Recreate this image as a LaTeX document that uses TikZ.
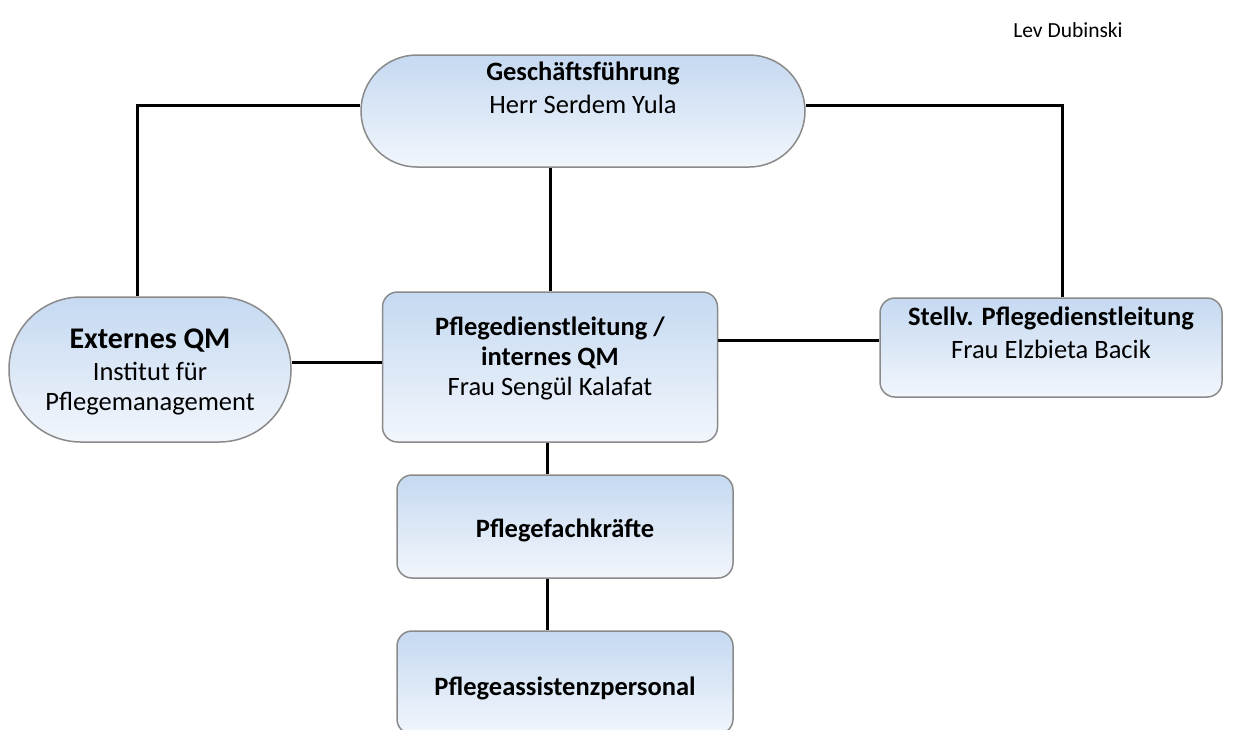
\documentclass[tikz,border=0pt]{standalone}
\usepackage{fontspec}
\setmainfont{Carlito}
\definecolor{boxtop}{RGB}{197,217,241}
\definecolor{boxbottom}{RGB}{242,246,252}
\definecolor{boxline}{RGB}{138,138,138}
\begin{document}
\begin{tikzpicture}[x=1pt,y=-1pt,
    box/.style={draw=boxline,line width=1.5pt,top color=boxtop,bottom color=boxbottom,
      rounded corners=15pt,inner sep=0pt},
    stadium/.style={box,rounded corners=#1},
    link/.style={line width=3pt,black},
    txt/.style={align=center,font=\fontsize{26.5}{30}\selectfont,inner sep=0pt}]

  \useasboundingbox (0,0) rectangle (1237,729);

  % box centres
  \coordinate (gfc) at (583,111);
  \coordinate (extc) at (150,369.5);
  \coordinate (pdlc) at (550,367);
  \coordinate (svc) at (1051,347.5);
  \coordinate (pfkc) at (565,526.5);
  \coordinate (pac) at (565,682.5);

  \begin{scope}[every node/.style={box}]
    \node[stadium=56pt,minimum width=444pt,minimum height=112pt] (gf) at (gfc) {};
    \node[stadium=72pt,minimum width=282pt,minimum height=145pt] (ext) at (extc) {};
    \node[minimum width=335pt,minimum height=150pt] (pdl) at (pdlc) {};
    \node[minimum width=342pt,minimum height=99pt] (sv) at (svc) {};
    \node[minimum width=336pt,minimum height=103pt] (pfk) at (pfkc) {};
    \node[minimum width=336pt,minimum height=103pt] (pa) at (pac) {};
  \end{scope}

  % connectors
  \draw[link] ([yshift=6pt]gf.west) -| ([xshift=-13pt]ext.north);
  \draw[link] ([yshift=6pt]gf.east) -| ([xshift=11pt]sv.north);
  \draw[link] (pdl.north) -- (pdl.north |- gf.south);
  \draw[link] ([yshift=7pt]ext.east) -- ([yshift=7pt]ext.east -| pdl.west);
  \draw[link] ([yshift=7pt]sv.west -| pdl.east) -- ([yshift=7pt]sv.west);
  \draw[link] ([xshift=-3pt]pdl.south) -- ([xshift=-3pt]pdl.south |- pfk.north);
  \draw[link] ([xshift=-3pt]pdl.south |- pfk.south) -- ([xshift=-3pt]pdl.south |- pa.north);

  % texts
  \begin{scope}[every node/.style={txt}]
    \node (author) at (1068,30) {\fontsize{21.5}{24}\selectfont Lev Dubinski};
    \node (gf-t) at (583,88) {\textbf{Geschäftsführung}\\[3pt]Herr Serdem Yula};
    \node (ext-t) at (150,372) {{\fontsize{30}{32}\selectfont\textbf{Externes QM}}\\[2pt]Institut für\\Pflegemanagement};
    \node (pdl-t) at (550,358) {\textbf{Pflegedienstleitung /}\\\textbf{internes QM}\\Frau Sengül Kalafat};
    \node (sv-t) at (1051,333) {\textbf{Stellv. Pflegedienstleitung}\\[3pt]Frau Elzbieta Bacik};
    \node (pfk-t) at (565,530) {\textbf{Pflegefachkräfte}};
    \node (pa-t) at (565,688) {\textbf{Pflegeassistenzpersonal}};
  \end{scope}

\end{tikzpicture}
\end{document}
